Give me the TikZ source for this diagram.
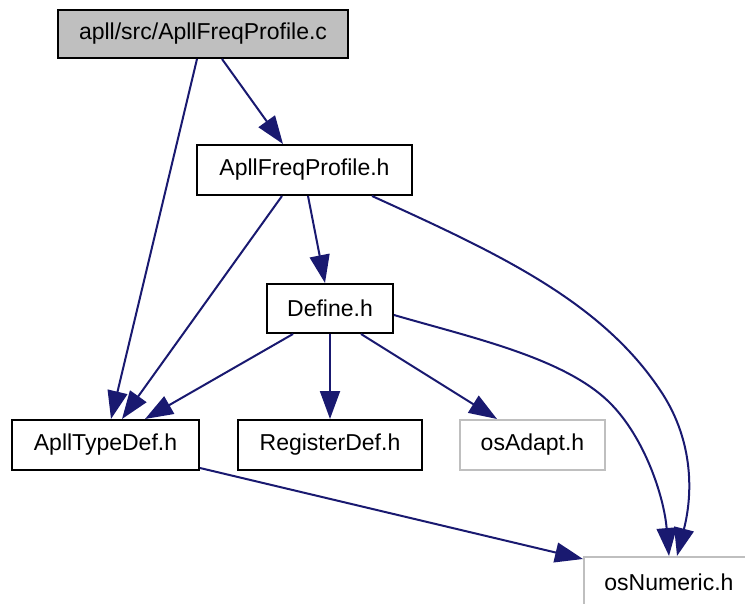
\documentclass[tikz,border=0pt]{standalone}
\usepackage{fontspec}
\setmainfont{Liberation Sans}
\usetikzlibrary{arrows.meta}
\definecolor{edgeblue}{HTML}{191970}
\definecolor{boxgray}{HTML}{BFBFBF}
\definecolor{lightborder}{HTML}{BFBFBF}
\tikzset{
  box/.style={draw=black, line width=2pt, fill=white, inner sep=0pt,
    font=\fontsize{23}{27}\selectfont},
  mainbox/.style={box, fill=boxgray},
  extbox/.style={box, draw=lightborder},
  edge/.style={draw=edgeblue, line width=2pt,
    -{Triangle[length=28pt,width=20pt]}}
}
\begin{document}
\begin{tikzpicture}[x=1pt,y=-1pt]
\useasboundingbox (0,0) rectangle (745,604);
\clip (0,0) rectangle (745,604);
\node[mainbox, minimum width=290pt, minimum height=48pt] (N1) at (203,34) {apll/src/ApllFreqProfile.c};
\node[box, minimum width=215pt, minimum height=50pt] (N2) at (304.5,170) {ApllFreqProfile.h};
\node[box, minimum width=126pt, minimum height=49pt] (N3) at (330,308.5) {Define.h};
\node[box, minimum width=187pt, minimum height=50pt] (N4) at (105.5,445) {ApllTypeDef.h};
\node[box, minimum width=184pt, minimum height=50pt] (N5) at (330,445) {RegisterDef.h};
\node[extbox, minimum width=145pt, minimum height=50pt] (N6) at (532.5,445) {osAdapt.h};
\node[extbox, minimum width=170pt, minimum height=50pt] (N7) at (669,582) {osNumeric.h};

\draw[edge] ([xshift=-6pt]N1.south) -- ([xshift=5.5pt]N4.north);
\draw[edge] ([xshift=19pt]N1.south) -- ([xshift=-21.5pt]N2.north);
\draw[edge] ([xshift=-22.5pt]N2.south) -- ([xshift=16.5pt]N4.north);
\draw[edge] ([xshift=3.5pt]N2.south) -- ([xshift=-5pt]N3.north);
\draw[edge] ([xshift=67.5pt]N2.south) .. controls (495,252) and (600,300) .. (660,390)
  .. controls (692,437) and (694,490) .. ([xshift=8pt]N7.north);
\draw[edge] ([xshift=-37pt]N3.south) -- ([xshift=39.5pt]N4.north);
\draw[edge] (N3.south) -- (N5.north);
\draw[edge] ([xshift=31pt]N3.south) -- ([xshift=-35.5pt]N6.north);
\draw[edge] ([yshift=-6.5pt]N3.east) .. controls (473,338) and (565,358) .. (610,403)
  .. controls (645,438) and (664,497) .. (N7.north);
\draw[edge] ([yshift=3pt]N4.south east) -- ([yshift=-3pt]N7.north west);
\end{tikzpicture}
\end{document}
